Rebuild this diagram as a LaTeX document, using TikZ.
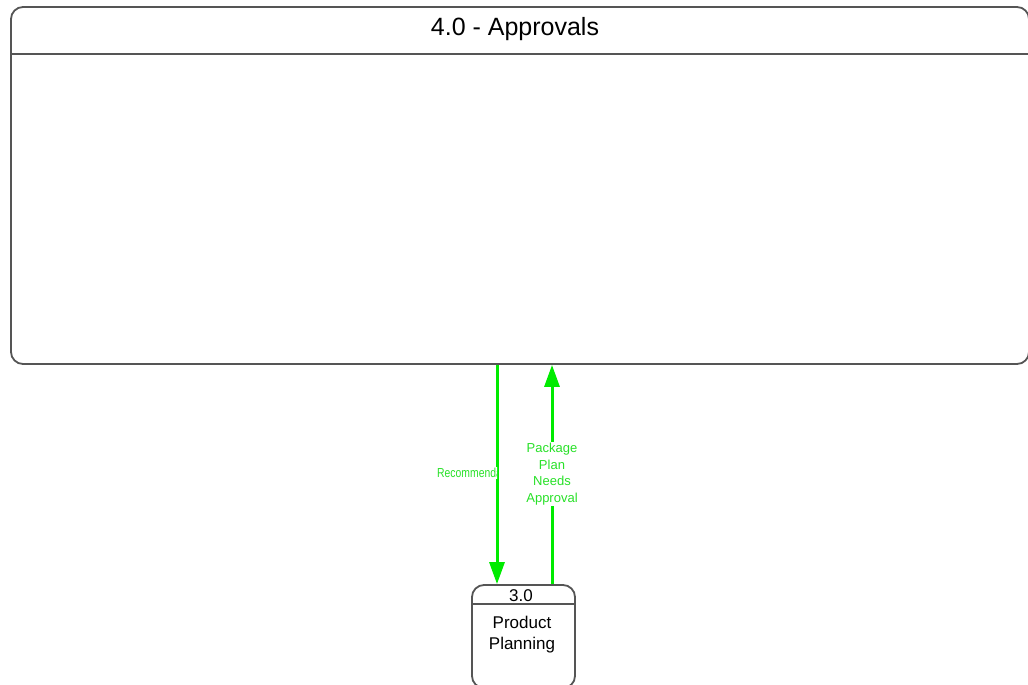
\documentclass[tikz,border=0pt]{standalone}
\usepackage{fontspec}
\usepackage{graphicx}
\setmainfont{Liberation Sans}
\usetikzlibrary{arrows.meta}
\definecolor{flowgreen}{RGB}{0,235,0}
\definecolor{labelgreen}{RGB}{40,225,40}
\definecolor{edgegray}{RGB}{85,85,85}

\begin{document}
\begin{tikzpicture}[x=1pt,y=-1pt,
    procbox/.style={draw=edgegray, line width=1.8pt, rounded corners=12pt, fill=white, inner sep=0pt},
    flow/.style={draw=flowgreen, line width=3pt, -{Triangle[length=22pt,width=15pt]}},
    flowlabel/.style={fill=white, text=labelgreen, font=\fontsize{13}{16.7}\selectfont, align=center, inner sep=1pt}]
    \useasboundingbox (0,0) rectangle (1028,685);

    % Processes
    \node[procbox, minimum width=1018pt, minimum height=357pt] (approvals) at (520,185.5) {};
    \draw[edgegray, line width=1.8pt] (approvals.west |- 0,54) -- (approvals.east |- 0,54);
    \node[font=\fontsize{25}{28}\selectfont] (approvalsTitle) at (515,29) {4.0 - Approvals};

    \node[procbox, minimum width=103pt, minimum height=103pt] (planning) at (523.5,636.5) {};
    \draw[edgegray, line width=1.6pt] (planning.west |- 0,604) -- (planning.east |- 0,604);
    \node[font=\fontsize{17}{18}\selectfont] (planningId) at (521,596) {3.0};
    \node[font=\fontsize{17}{21}\selectfont, align=center] (planningName) at (522,635) {Product\\Planning};

    % Data flows
    \coordinate (recX) at (497,0);
    \coordinate (pkgX) at (552,0);
    \draw[flow] (approvals.south -| recX) -- (planning.north -| recX);
    \draw[flow] (planning.north -| pkgX) -- (approvals.south -| pkgX);

    % Flow labels
    \begin{scope}
        \clip (436,462) rectangle (497,484);
        \node[flowlabel, anchor=west] (recLabel) at (436,473) {\scalebox{0.8}[1]{Recommendations}};
    \end{scope}
    \node[flowlabel] (pkgLabel) at (552,474) {Package\\Plan\\Needs\\Approval};
\end{tikzpicture}
\end{document}
